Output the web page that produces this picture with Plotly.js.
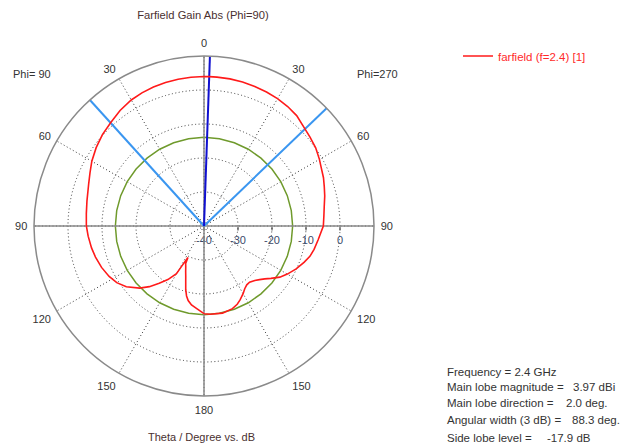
<!DOCTYPE html>
<html><head><meta charset="utf-8">
<script src="https://cdn.plot.ly/plotly-3.0.1.min.js"></script>
<style>html,body{margin:0;padding:0;background:#fff}#chart{width:623px;height:448px}</style>
</head><body><div id="chart"></div>
<script>
// Theta in degrees (positive toward the Phi=270 side), gain in dBi
const thetaDeg = [-180,-175,-171,-168,-166,-164,-162,-160,-158,-156,-154,-153,-151,-150,-146,-142,-138,-134,-128,-123,-118,-112,-106,-101,-95,-90,-84,-78,-70,-65,-60,-54,-48,-42,-36,-30,-25,-20,-15,-10,-5,0,2,5,10,15,20,25,30,35,40,46,50,55,60,63,68,72,76,81,85,90,97,102,106,110,115,120,124,128,131,134,137,141,144,147,150,154,157,161,168,176,180];
const gainDb   = [-14.2,-15.6,-16.5,-17.6,-18.8,-20.5,-22.6,-24.3,-25.6,-26.8,-27.7,-29.6,-26.5,-23.8,-21.0,-18.6,-16.0,-13.7,-11.0,-9.4,-8.4,-7.5,-6.8,-6.3,-5.8,-5.4,-5.2,-4.8,-3.9,-3.0,-1.9,-0.8,0.2,0.97,2.0,2.8,3.2,3.5,3.7,3.85,3.93,3.96,3.97,3.96,3.93,3.82,3.68,3.5,3.25,2.9,2.4,1.2,0.7,0.1,-0.8,-1.4,-2.1,-2.8,-3.4,-4.2,-4.6,-4.9,-6.2,-6.9,-7.6,-8.7,-10.1,-11.7,-13.1,-15.0,-16.3,-17.3,-18.1,-18.7,-18.6,-18.0,-17.0,-15.8,-15.0,-14.3,-13.8,-14.0,-14.2];
const mainLobeDirection = 2.0;
const beamEdgeAngles = [-42.15, 46.15];
const sideLobeThreshold = -13.93;
const circleTheta = [0,10,20,30,40,50,60,70,80,90,100,110,120,130,140,150,160,170,180,190,200,210,220,230,240,250,260,270,280,290,300,310,320,330,340,350,360];
const radialRange = [-40, 10];
const radialTicks = [-40,-30,-20,-10,0];
const radialTickText = ['-40','-30','-20','-10','0'];
const angularTickVals = [0,30,60,90,120,150,180,210,240,270,300,330];
const angularTickText = ['0','30','60','90','120','150','180','150','120','90','60','30'];
const axisTickVals = [0,90,180,270];
const statLabels = ['Frequency = 2.4 GHz','Main lobe magnitude =','Main lobe direction =','Angular width (3 dB) =','Side lobe level ='];
const statValues = ['','3.97 dBi','2.0 deg.','88.3 deg.','-17.9 dB'];

const W = 623, H = 448;
const px = v => v / W, py = v => 1 - v / H;
const FONT = 'Liberation Sans, Arial, sans-serif';

const traces = [
  {type:'scatterpolar', subplot:'polar', mode:'lines', theta: circleTheta,
   r: circleTheta.map(() => sideLobeThreshold), line:{color:'#6f9a2c', width:1.5},
   showlegend:false, hoverinfo:'skip'},
  {type:'scatterpolar', subplot:'polar2', mode:'lines', theta:[beamEdgeAngles[0], beamEdgeAngles[0]],
   r: radialRange, line:{color:'#3a96f0', width:2}, showlegend:false, hoverinfo:'skip'},
  {type:'scatterpolar', subplot:'polar2', mode:'lines', theta:[beamEdgeAngles[1], beamEdgeAngles[1]],
   r: radialRange, line:{color:'#3a96f0', width:2}, showlegend:false, hoverinfo:'skip'},
  {type:'scatterpolar', subplot:'polar2', mode:'lines', theta:[mainLobeDirection, mainLobeDirection],
   r: radialRange, line:{color:'#1010d0', width:2}, showlegend:false, hoverinfo:'skip'},
  {type:'scatterpolar', subplot:'polar2', mode:'lines', theta: thetaDeg, r: gainDb,
   name:'farfield (f=2.4) [1]', line:{color:'#ff1a1a', width:1.6}, showlegend:true}
];

const domain = {x:[px(204-170), px(204+170)], y:[py(226+170), py(226-170)]};

const annotations = [
  {text:'Phi= 90', x:px(11), y:py(74), xanchor:'left'},
  {text:'Phi=270', x:px(355), y:py(74), xanchor:'left'},
  {text:'Theta / Degree vs. dB', x:px(201), y:py(437), xanchor:'center', font:{family:FONT, size:11, color:'#4a3030'}}
];
const statY = [372, 387, 403, 420, 438];
const valueX = [0, 571, 563.5, 570, 544.5];
statLabels.forEach((t, i) => {
  annotations.push({text:t, x:px(444.5), y:py(statY[i]), xanchor:'left', font:{family:FONT, size:11.5, color:'#333333'}});
  if (statValues[i]) annotations.push({text:statValues[i], x:px(valueX[i]), y:py(statY[i]), xanchor:'left', font:{family:FONT, size:11.5, color:'#333333'}});
});
annotations.forEach(a => {
  a.xref = 'paper'; a.yref = 'paper'; a.yanchor = 'middle'; a.showarrow = false;
  if (!a.font) a.font = {family:FONT, size:11, color:'#333333'};
});

const layout = {
  width: W, height: H,
  margin:{l:0, r:0, t:0, b:0},
  paper_bgcolor:'#ffffff',
  font:{family:FONT, size:11, color:'#333333'},
  title:{text:'Farfield Gain Abs (Phi=90)', x:px(203), xanchor:'center', y:py(15), yanchor:'middle',
         font:{family:FONT, size:11.2, color:'#4a3030'}},
  polar:{
    domain: domain, bgcolor:'#ffffff',
    angularaxis:{rotation:90, direction:'clockwise', tickmode:'array', tickvals:angularTickVals,
      ticktext:angularTickText, ticks:'outside', ticklen:4, tickcolor:'rgba(0,0,0,0)',
      showgrid:true, gridcolor:'#3a3a3a', gridwidth:1, griddash:'1px,2.5px', showline:false,
      tickfont:{family:FONT, size:11, color:'#333333'}},
    radialaxis:{range:radialRange, tickmode:'array', tickvals:radialTicks, ticktext:radialTickText,
      ticks:'outside', ticklen:4,
      tickcolor:'#333333', angle:0, side:'clockwise', showline:false, showgrid:true,
      gridcolor:'#3a3a3a', gridwidth:1, griddash:'1px,2.5px',
      tickfont:{family:FONT, size:11, color:'#3a4a6a'}}
  },
  polar2:{
    domain: domain, bgcolor:'rgba(0,0,0,0)',
    angularaxis:{rotation:90, direction:'clockwise', tickmode:'array', tickvals:axisTickVals,
      showticklabels:false, ticks:'', showgrid:true, gridcolor:'#8a8a8a', gridwidth:1.5,
      showline:true, linecolor:'#8a8a8a', linewidth:1.5},
    radialaxis:{range:radialRange, showgrid:false, showticklabels:false, ticks:'', showline:false}
  },
  legend:{x:px(458), y:py(56), xanchor:'left', yanchor:'middle', bgcolor:'rgba(0,0,0,0)',
    font:{family:FONT, size:11.5, color:'#ff2a2a'}},
  annotations: annotations
};

Plotly.newPlot('chart', traces, layout, {displayModeBar:false, staticPlot:true});
</script>
</body></html>
